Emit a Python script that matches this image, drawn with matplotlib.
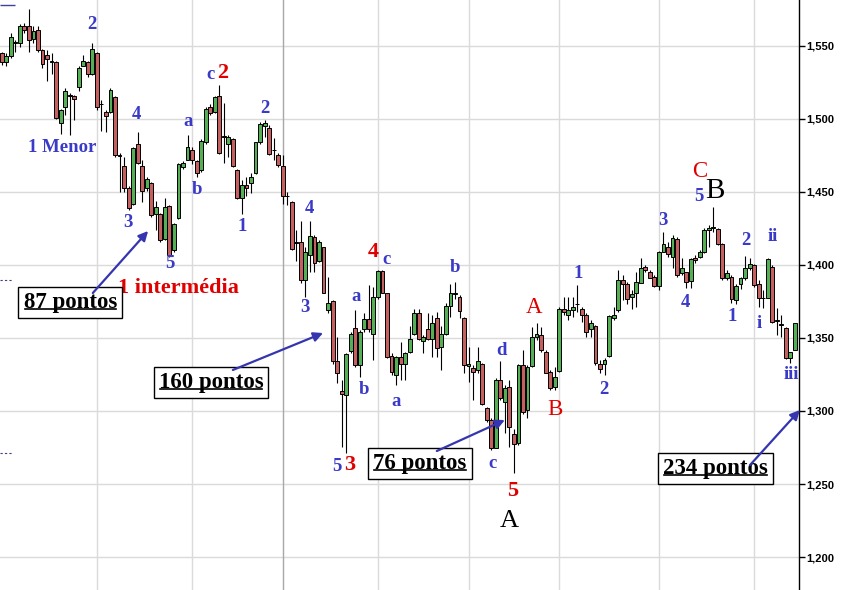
import matplotlib
matplotlib.use('Agg')
import matplotlib.pyplot as plt
from matplotlib.lines import Line2D

# daily OHLC (index = trading day)
opens = [1545, 1539, 1543, 1553, 1552, 1564, 1564, 1555, 1561, 1547,
         1544, 1539.5, 1539, 1497, 1508, 1516.5, 1516, 1522, 1536, 1539,
         1531, 1545, 1510, 1505, 1505, 1515, 1475, 1468, 1453, 1442,
         1483, 1468, 1453, 1456, 1435, 1435, 1418, 1440.5, 1410, 1432,
         1467, 1472, 1479, 1471, 1465, 1484, 1508, 1505, 1516, 1488.5,
         1483, 1486, 1465, 1446, 1455, 1456, 1463, 1484, 1495, 1494,
         1479, 1475, 1468, 1447.5, 1443, 1414.8, 1415.5, 1390, 1407, 1419,
         1403, 1412, 1369, 1375, 1334, 1314, 1311, 1341, 1357, 1331.5,
         1356, 1363, 1352.5, 1378, 1396, 1380.5, 1338, 1324.5, 1337, 1332.5,
         1340.5, 1353, 1367, 1348, 1356.5, 1349, 1363.5, 1344, 1353, 1372,
         1380.5, 1378, 1364, 1331, 1329.5, 1328, 1332.5, 1302, 1294, 1275,
         1321.5, 1306, 1316.5, 1284, 1278, 1331.5, 1300.5, 1331, 1350.5, 1352,
         1340.5, 1327, 1316.5, 1327.5, 1370, 1366, 1369, 1373.5, 1370, 1365.5,
         1356, 1358, 1332.5, 1332, 1337.5, 1363.5, 1369, 1389.5, 1387, 1378.3,
         1380.5, 1388, 1398.4, 1395.4, 1392, 1385.6, 1409.1, 1412.5, 1405.7, 1417.8,
         1394.3, 1395, 1389.3, 1405, 1405.7, 1408.7, 1424, 1425.1, 1424.4, 1414.2,
         1391.3, 1392, 1376, 1386.8, 1390.9, 1398.2, 1400, 1386.8, 1377.4, 1377.6,
         1398.8, 1362, 1359.6, 1357, 1336.1, 1341.8]
highs = [1546, 1545, 1559, 1554, 1565, 1566, 1575, 1564, 1564, 1548,
         1547, 1545, 1540, 1507, 1521, 1518, 1516.5, 1536, 1544, 1540,
         1552, 1546, 1513, 1506, 1521, 1516, 1476.5, 1474, 1454, 1481,
         1491, 1472, 1460.5, 1457, 1444, 1435.5, 1446, 1441, 1428.5, 1470,
         1471, 1489, 1481, 1472, 1486, 1508, 1510, 1516, 1523, 1511,
         1489, 1487, 1466, 1458, 1460, 1463, 1484.5, 1498, 1499, 1496,
         1487, 1476.5, 1475, 1450, 1444, 1424, 1430, 1412.5, 1430, 1420.5,
         1417, 1412.5, 1392, 1376, 1351, 1321, 1340, 1354, 1369, 1355.5,
         1367, 1386, 1385, 1396.5, 1396.5, 1381, 1339.5, 1338, 1347, 1340.5,
         1358, 1370, 1370, 1352, 1367, 1366, 1368, 1358, 1374, 1387,
         1388.5, 1379.5, 1364.5, 1344, 1331.5, 1344, 1333, 1303, 1295, 1322.5,
         1334, 1318, 1321, 1288, 1332.5, 1342, 1331.5, 1357.5, 1360, 1357.5,
         1342, 1328, 1330, 1371.5, 1378, 1378, 1378, 1386, 1371.5, 1367,
         1362, 1359, 1335, 1336, 1366, 1371.5, 1396.5, 1393, 1388.5, 1383,
         1395.5, 1404.5, 1400, 1396.5, 1393, 1409.6, 1422.8, 1416, 1420.5, 1419.4,
         1404.6, 1395.4, 1404.8, 1406.8, 1410.3, 1425.3, 1427.4, 1439.9, 1425.1, 1414.8,
         1396.5, 1393.1, 1386.7, 1391.8, 1406.1, 1404.6, 1400.5, 1389.7, 1382.9, 1404.6,
         1400, 1370.3, 1365.7, 1357.7, 1340.6, 1360.1]
lows = [1537, 1536, 1542, 1546, 1549, 1559, 1546, 1552, 1546, 1535,
        1526, 1531, 1500, 1490, 1503, 1489, 1499, 1519, 1536, 1529,
        1530, 1506, 1492, 1491, 1504, 1474, 1450, 1450, 1438, 1441,
        1469, 1443, 1451, 1433, 1424, 1416, 1417, 1405.5, 1409, 1431.5,
        1466, 1472, 1469.5, 1460, 1464, 1483, 1502.5, 1504, 1476, 1470,
        1474, 1467, 1445, 1435, 1447, 1449, 1462, 1483, 1488, 1475,
        1472, 1467, 1442, 1441, 1410, 1403, 1388, 1378, 1395, 1395,
        1402, 1380.5, 1367, 1332.5, 1319, 1275.5, 1271, 1339.5, 1330, 1323.5,
        1354, 1354, 1335, 1377, 1380.5, 1336, 1324.5, 1318, 1321, 1321,
        1339.5, 1352, 1348.5, 1339.5, 1348.5, 1337, 1337, 1328, 1352, 1364.5,
        1377, 1363.5, 1326, 1320, 1307.5, 1326, 1304, 1292.5, 1273, 1274.5,
        1307.5, 1285, 1275.5, 1257.5, 1276.5, 1298, 1295, 1330, 1348.5, 1340.5,
        1326, 1314.5, 1314.5, 1327, 1365.5, 1362, 1364.5, 1368, 1361, 1351,
        1351, 1331.5, 1326, 1324.5, 1337, 1362, 1368, 1376, 1373.5, 1370,
        1371.5, 1387.5, 1395.4, 1390.9, 1385, 1383, 1408.9, 1405.7, 1397.7, 1392,
        1393.1, 1384, 1384.2, 1401.4, 1404.8, 1408.2, 1412, 1422.8, 1413.7, 1389.7,
        1389.7, 1373.7, 1373.1, 1383.6, 1389.7, 1396.5, 1385.1, 1371.4, 1370.3, 1377.2,
        1360, 1352, 1350.9, 1335.6, 1332.6, 1341.8]
closes = [1539, 1543, 1556, 1552, 1564, 1561, 1554, 1560, 1547, 1538,
          1541, 1539, 1501, 1506, 1519, 1516, 1514, 1535, 1540, 1531,
          1548, 1508, 1510.5, 1502, 1520, 1475, 1474.5, 1453, 1439, 1480,
          1470, 1451, 1459, 1434, 1440, 1417, 1440, 1407, 1428, 1469,
          1470, 1481, 1472, 1463, 1485, 1507, 1504, 1515, 1477, 1488,
          1488, 1468, 1446, 1455, 1452.5, 1460, 1484, 1496.5, 1497.5, 1476,
          1478.5, 1468.5, 1447, 1447, 1411, 1416, 1390, 1409, 1420, 1401.5,
          1416, 1381, 1374, 1334, 1326, 1311.5, 1339, 1352.5, 1331.5, 1354,
          1363, 1356, 1378, 1396, 1381, 1337, 1327, 1337, 1332, 1339.5,
          1349, 1367, 1349, 1350.5, 1349, 1360, 1343, 1353, 1372, 1381,
          1380, 1368.5, 1331.5, 1332, 1327, 1334, 1305, 1294, 1274.5, 1321,
          1309, 1316, 1289, 1277.5, 1331.5, 1299.5, 1330, 1351, 1353, 1342,
          1326.2, 1316, 1323, 1370, 1368, 1369.5, 1371, 1373, 1366, 1354,
          1360.5, 1333, 1328.5, 1335, 1365, 1365.7, 1390, 1387, 1376.7, 1380,
          1388.5, 1397.7, 1396.5, 1391.3, 1385.8, 1409.1, 1414.2, 1407.3, 1418.3, 1393.1,
          1397.7, 1388.5, 1403.9, 1403.4, 1408.7, 1424, 1425.1, 1426.2, 1414.2, 1391.3,
          1394.3, 1376.7, 1385.8, 1390.9, 1398.2, 1400.5, 1386.3, 1377.6, 1377.2, 1404.1,
          1360.7, 1361.6, 1359.2, 1336.1, 1340.6, 1360.1]

price_ticks = [1200, 1250, 1300, 1350, 1400, 1450, 1500, 1550]
month_lines = [21, 42, 83, 103, 123, 145, 166]
year_line = 62

# wave labels: text, day index, price, colour, size, weight
BLUE = '#3a3ac8'
RED = '#e00000'
labels = [
    ('2', 19.9, 1564.4, BLUE, 13.5, 'bold'),
    ('1 Menor', 13.3, 1480.8, BLUE, 13.5, 'bold'),
    ('4', 29.8, 1503.4, BLUE, 13.5, 'bold'),
    ('3', 27.9, 1429.4, BLUE, 13.5, 'bold'),
    ('5', 37.1, 1400.7, BLUE, 13.5, 'bold'),
    ('a', 41.1, 1498.6, BLUE, 13.5, 'bold'),
    ('b', 43.1, 1451.4, BLUE, 13.5, 'bold'),
    ('c', 46.0, 1530.8, BLUE, 13.5, 'bold'),
    ('2', 48.8, 1531.5, RED, 16, 'bold'),
    ('1', 53.0, 1426.7, BLUE, 13.5, 'bold'),
    ('2', 58.1, 1507.5, BLUE, 13.5, 'bold'),
    ('4', 68.0, 1439.0, BLUE, 13.5, 'bold'),
    ('3', 66.9, 1371.2, BLUE, 13.5, 'bold'),
    ('4', 81.9, 1408.9, RED, 16, 'bold'),
    ('c', 85.0, 1404.1, BLUE, 13.5, 'bold'),
    ('a', 78.2, 1378.7, BLUE, 13.5, 'bold'),
    ('b', 79.9, 1315.0, BLUE, 13.5, 'bold'),
    ('a', 87.0, 1306.8, BLUE, 13.5, 'bold'),
    ('b', 100.0, 1398.6, BLUE, 13.5, 'bold'),
    ('5', 74.0, 1262.3, BLUE, 13.5, 'bold'),
    ('3', 76.8, 1263.0, RED, 16, 'bold'),
    ('d', 110.2, 1341.1, BLUE, 13.5, 'bold'),
    ('c', 108.2, 1263.7, BLUE, 13.5, 'bold'),
    ('5', 112.8, 1245.2, RED, 16, 'bold'),
    ('A', 111.9, 1224.6, 'black', 19, 'normal'),
    ('A', 117.4, 1371.2, RED, 16.5, 'normal'),
    ('B', 122.1, 1300.7, RED, 16.5, 'normal'),
    ('1', 127.1, 1394.5, BLUE, 13.5, 'bold'),
    ('2', 132.9, 1315.0, BLUE, 13.5, 'bold'),
    ('3', 145.9, 1430.8, BLUE, 13.5, 'bold'),
    ('4', 150.9, 1374.6, BLUE, 13.5, 'bold'),
    ('5', 153.8, 1446.6, BLUE, 13.5, 'bold'),
    ('B', 157.4, 1450.7, 'black', 21, 'normal'),
    ('C', 154.1, 1463.7, RED, 16.5, 'normal'),
    ('1', 161.1, 1365.0, BLUE, 13.5, 'bold'),
    ('2', 164.2, 1417.1, BLUE, 13.5, 'bold'),
    ('i', 167.1, 1359.6, BLUE, 13.5, 'bold'),
    ('ii', 170.2, 1419.2, BLUE, 13.5, 'bold'),
    ('iii', 174.3, 1325.3, BLUE, 13.5, 'bold'),
    ('1 intermédia', 39.1, 1384.2, RED, 16, 'bold'),
]

# point counts: text, box centre, arrow start, arrow end
boxes = [
    ('87 pontos', (15.1, 1374.6), (20.1, 1380.8), (32.3, 1423.3)),
    ('160 pontos', (46.2, 1319.8), (51.0, 1328.1), (70.9, 1353.4)),
    ('76 pontos', (92.3, 1264.3), (96.0, 1272.6), (111.0, 1293.8)),
    ('234 pontos', (157.4, 1260.9), (165.1, 1263.0), (176.1, 1300.7)),
]

plt.rcParams['font.family'] = ['Liberation Serif', 'DejaVu Serif']

fig = plt.figure(figsize=(8.49, 5.90), dpi=100)
ax = fig.add_axes([0, 0, 799 / 849, 1])
ax.set_xlim(-0.375, 175.9)
ax.set_ylim(1177.4, 1581.5)

for p in price_ticks:
    ax.axhline(p, color='#dadada', lw=1, zorder=0)
for m in month_lines:
    ax.axvline(m, color='#dadada', lw=1, zorder=0)
ax.axvline(year_line, color='#a8a8a8', lw=1, zorder=0)

# little leftover marks at the left edge
ax.hlines(1578, -0.375, 3, color='#4040a0', lw=1)
ax.hlines([1389.7, 1271.2], -0.375, 2.3, color='#404080', lw=0.8, linestyles=(0, (2, 2)))

for i in range(len(opens)):
    o, h, l, c = opens[i], highs[i], lows[i], closes[i]
    up = c > o
    ax.vlines(i, l, h, color='black', lw=0.8, zorder=2)
    bottom = min(o, c)
    height = max(abs(c - o), 0.3)
    ax.bar(i, height, bottom=bottom, width=0.85,
           color='#55b055' if up else '#c56060',
           edgecolor='black', linewidth=0.7, zorder=3)

ax.yaxis.tick_right()
ax.set_yticks(price_ticks)
ax.set_yticklabels(['{:,}'.format(p) for p in price_ticks],
                   fontfamily='Liberation Sans', fontweight='bold', fontsize=8)
ax.tick_params(axis='y', direction='out', length=4, width=1, pad=1, colors='black')
ax.set_xticks([])
for s in ['top', 'left', 'bottom']:
    ax.spines[s].set_visible(False)
ax.spines['right'].set_linewidth(1)
ax.spines['right'].set_color('black')

for txt, x, y, col, size, weight in labels:
    ax.text(x, y, txt, color=col, fontsize=size, fontweight=weight,
            ha='center', va='center', zorder=5)

box_texts = []
for txt, centre, start, end in boxes:
    t = ax.text(centre[0], centre[1], txt, fontsize=16.5, fontweight='bold',
                ha='center', va='center', zorder=6,
                bbox=dict(boxstyle='square,pad=0.22', fc='white', ec='black', lw=1))
    box_texts.append(t)
    ax.annotate('', xy=end, xytext=start, zorder=7, annotation_clip=False,
                arrowprops=dict(arrowstyle='-|>', color='#3535b0', lw=1.6,
                                mutation_scale=14, shrinkA=0, shrinkB=0))

# underline the point counts
fig.canvas.draw()
for t in box_texts:
    bb = t.get_window_extent()
    y = bb.y0 + 0.16 * bb.height
    fig.add_artist(Line2D([bb.x0 + 1, bb.x1 - 1], [y, y], transform=None,
                          color='black', lw=1.2, zorder=8))

fig.savefig('out.png', dpi=100)
